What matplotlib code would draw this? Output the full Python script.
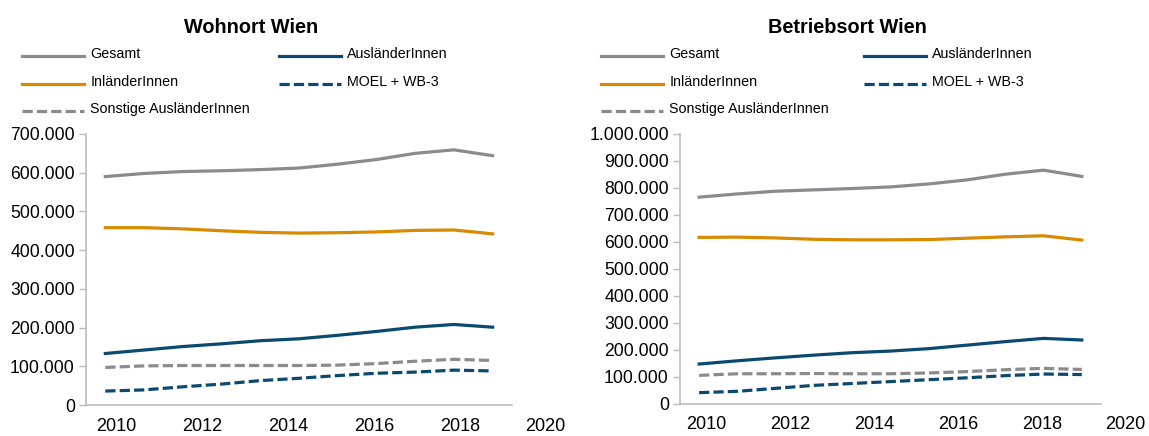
#!/usr/bin/env python3

"""
plot.py
"""

from matplotlib import pyplot as plt
from matplotlib.ticker import FuncFormatter
from matplotlib.transforms import ScaledTranslation

plt.rcParams['font.family'] = ['Liberation Sans', 'DejaVu Sans']

years = list(range(2010, 2021))

# Wohnort Wien
wohn_gesamt = [590000, 598000, 603000, 605000, 608000, 612000, 622000, 634000, 650000, 659000, 644000]
wohn_inland = [458000, 458000, 455000, 450000, 446000, 444000, 445000, 447000, 451000, 452000, 442000]
wohn_ausland = [133000, 142000, 151000, 158000, 166000, 171000, 180000, 190000, 201000, 208000, 201000]
wohn_moel = [36000, 39000, 47000, 54000, 63000, 69000, 76000, 82000, 85000, 90000, 88000]
wohn_sonst = [97000, 101000, 102000, 102000, 102000, 102000, 103000, 107000, 113000, 118000, 115000]

# Betriebsort Wien
betr_gesamt = [766000, 778000, 788000, 793000, 798000, 804000, 815000, 830000, 851000, 866000, 843000]
betr_inland = [617000, 618000, 615000, 610000, 608000, 608000, 609000, 614000, 619000, 623000, 607000]
betr_ausland = [148000, 160000, 171000, 181000, 190000, 196000, 205000, 218000, 231000, 243000, 237000]
betr_moel = [42000, 47000, 58000, 69000, 76000, 83000, 90000, 97000, 105000, 111000, 109000]
betr_sonst = [106000, 112000, 112000, 113000, 112000, 112000, 115000, 120000, 127000, 132000, 128000]

labels = ['Gesamt', 'AusländerInnen', 'InländerInnen', 'MOEL + WB-3',
          'Sonstige AusländerInnen']

GRAY = '#8b8b8f'
BLUE = '#0b4a70'
ORANGE = '#d88a00'
SPINE = '#bcbcbc'
LW = 2.3
DASH = (3.2, 1.3)


def thousands(value, pos):
  # German style separator: 100.000
  return '{:,.0f}'.format(value).replace(',', '.')


def drawPanel(ax, title, gesamt, inland, ausland, moel, sonst, ymax, step,
              legendX, colX, titleX, labelShift):
  ax.plot(years, gesamt, color=GRAY, lw=LW)
  ax.plot(years, ausland, color=BLUE, lw=LW)
  ax.plot(years, inland, color=ORANGE, lw=LW)
  ax.plot(years, moel, color=BLUE, lw=LW, dashes=DASH)
  ax.plot(years, sonst, color=GRAY, lw=LW, dashes=DASH)

  ax.set_xlim(2009.5, 2020.5)
  ax.set_ylim(0, ymax)
  ax.set_yticks(range(0, ymax + 1, step))
  ax.yaxis.set_major_formatter(FuncFormatter(thousands))
  ax.set_xticks(years[::2])
  ax.tick_params(axis='y', labelsize=12.7, length=5, width=1, color=SPINE,
                 pad=3)
  ax.tick_params(axis='x', labelsize=13, length=0, pad=9)
  for side in ('top', 'right'):
    ax.spines[side].set_visible(False)
  for side in ('left', 'bottom'):
    ax.spines[side].set_color(SPINE)
    ax.spines[side].set_linewidth(1.2)

  fig = ax.figure
  # Year labels run on a slightly wider spacing than the data points.
  start, perYear = labelShift
  for year, label in zip(ax.get_xticks(), ax.get_xticklabels()):
    dx = (start + perYear * (year - years[0])) / fig.dpi
    label.set_transform(label.get_transform()
                        + ScaledTranslation(dx, 0, fig.dpi_scale_trans))

  # Title and legend sit above the axes in figure coordinates.
  fig.text(titleX, 0.938, title, ha='center', va='center',
           fontsize=14.3, fontweight='bold')
  lines = ax.get_lines()
  rows = [0.876, 0.812, 0.750]
  for i, line in enumerate(lines):
    row = rows[i // 2]
    x0 = legendX if i % 2 == 0 else colX
    handle = plt.Line2D([x0, x0 + 0.054], [row - 0.004, row - 0.004],
                        transform=fig.transFigure, color=line.get_color(),
                        lw=LW)
    if line.get_linestyle() != '-':
      handle.set_dashes(DASH)
    fig.add_artist(handle)
    fig.text(x0 + 0.0595, row, labels[i], ha='left', va='center',
             fontsize=10.3)


figure = plt.figure(figsize=(11.49, 4.36), dpi=100)
axLeft = figure.add_axes([0.0748, 0.0711, 0.3708, 0.6216])
axRight = figure.add_axes([0.5918, 0.0734, 0.3664, 0.6193])

drawPanel(axLeft, 'Wohnort Wien', wohn_gesamt, wohn_inland, wohn_ausland,
          wohn_moel, wohn_sonst, 700000, 100000,
          0.0192, 0.2428, 0.2185, (11, 4.2))
drawPanel(axRight, 'Betriebsort Wien', betr_gesamt, betr_inland, betr_ausland,
          betr_moel, betr_sonst, 1000000, 100000,
          0.5231, 0.7520, 0.7372, (7.3, 3.65))

figure.savefig('out.png', dpi=100)
